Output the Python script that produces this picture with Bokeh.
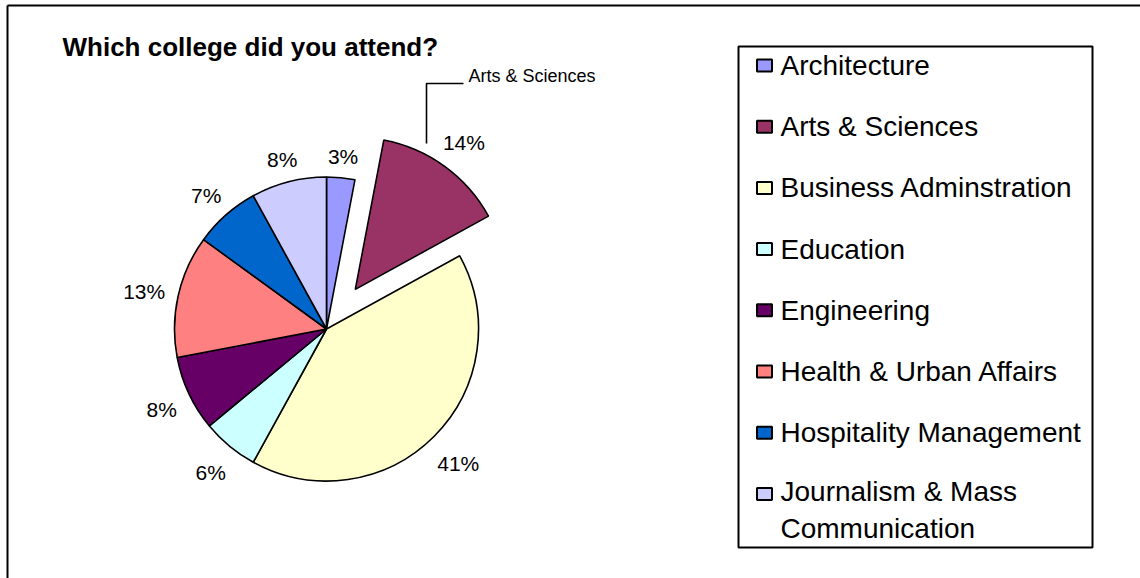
import math
from bokeh.plotting import figure
from bokeh.models import Range1d
from bokeh.core.properties import value
from bokeh.embed import file_html
from bokeh.resources import INLINE

# ---- data ----
title_text = "Which college did you attend?"
categories = ["Architecture", "Arts & Sciences", "Business Adminstration", "Education",
              "Engineering", "Health & Urban Affairs", "Hospitality Management",
              "Journalism & Mass Communication"]
legend_labels = ["Architecture", "Arts & Sciences", "Business Adminstration", "Education",
                 "Engineering", "Health & Urban Affairs", "Hospitality Management",
                 "Journalism & Mass\nCommunication"]
percent = [3, 14, 41, 6, 8, 13, 7, 8]
colors = ["#9999FF", "#993366", "#FFFFCC", "#CCFFFF", "#660066", "#FF8080", "#0066CC", "#CCCCFF"]
exploded = "Arts & Sciences"

FONT = "Liberation Sans"
W, H = 1140, 578

p = figure(width=W, height=H, x_range=Range1d(0, W), y_range=Range1d(-H, 0),
           output_backend="svg", toolbar_location=None, min_border=0,
           x_axis_location=None, y_axis_location=None)
p.margin = (0, 0, 0, 0)
p.grid.visible = False
p.outline_line_color = None
p.background_fill_color = "white"
p.border_fill_color = "white"

# outer frame (top and left edges visible)
p.line([7, W], [-5, -5], line_color="black", line_width=2)
p.line([7, 7], [-5, -H], line_color="black", line_width=2)

# title
p.text(x=[62], y=[-46], text=[title_text], text_font=value(FONT), text_font_style="bold",
       text_font_size=value("26px"), text_align="left", text_baseline="middle", text_color="black")

# ---- pie ----
cx, cy, r = 326.0, -328.5, 152.0
explode_dist = 49.0
label_fs = 21.0
total = float(sum(percent))
cum = 0.0
for cat, v, col in zip(categories, percent, colors):
    a0 = 2 * math.pi * cum / total
    cum += v
    a1 = 2 * math.pi * cum / total
    mid = (a0 + a1) / 2
    ox = oy = 0.0
    if cat == exploded:
        ox = explode_dist * math.sin(mid)
        oy = explode_dist * math.cos(mid)
    p.wedge(x=[cx + ox], y=[cy + oy], radius=r,
            start_angle=math.pi / 2 - a1, end_angle=math.pi / 2 - a0,
            fill_color=col, line_color="black", line_width=1.6)
    txt = f"{v}%"
    w = (0.556 * (len(txt) - 1) + 0.889) * label_fs
    h = label_fs
    dist = r + 12 + abs(math.sin(mid)) * w / 2 + abs(math.cos(mid)) * h / 2
    p.text(x=[cx + ox + dist * math.sin(mid)], y=[cy + oy + dist * math.cos(mid) - 3], text=[txt],
           text_font=value(FONT), text_font_size=value(f"{label_fs}px"),
           text_align="center", text_baseline="middle", text_color="black")

# callout for exploded slice
p.line([426, 426, 463], [-143, -83, -83], line_color="black", line_width=1.6)
p.text(x=[468], y=[-75], text=[exploded], text_font=value(FONT), text_font_size=value("18px"),
       text_align="left", text_baseline="middle", text_color="black")

# ---- legend ----
p.quad(left=[738], right=[1092], top=[-46], bottom=[-547], fill_color="white",
       line_color="black", line_width=2)
row0, step = 65.0, 61.2
for i, (lab, col) in enumerate(zip(legend_labels, colors)):
    ry = row0 + i * step
    p.rect(x=[764], y=[-ry], width=15, height=12, fill_color=col, line_color="black", line_width=2)
    nlines = lab.count("\n") + 1
    p.text(x=[780], y=[-(ry + (nlines - 1) * 16.5)], text=[lab], text_font=value(FONT),
           text_font_size=value("28px"), text_align="left", text_baseline="middle",
           text_line_height=1.2, text_color="black")

open("out.html", "w").write(file_html(p, INLINE))
